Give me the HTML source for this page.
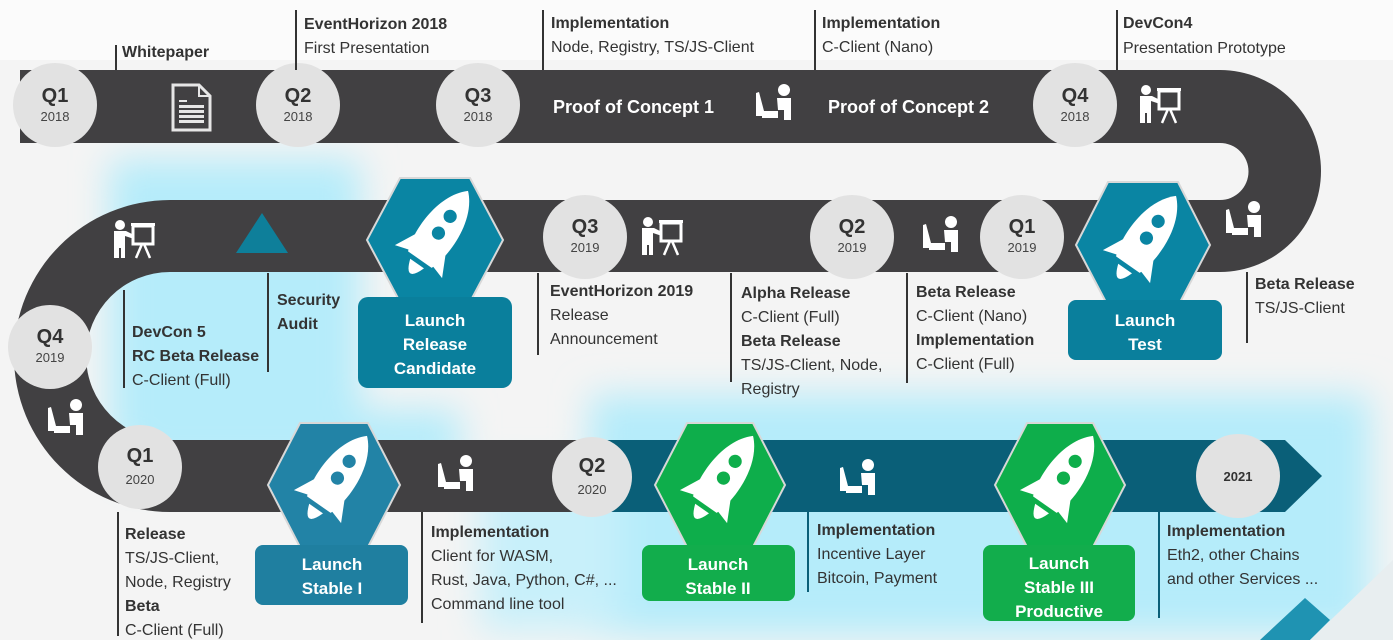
<!DOCTYPE html>
<html><head><meta charset="utf-8"><style>
html,body{margin:0;padding:0;background:#f4f4f4}
svg{display:block}
text{font-family:"Liberation Sans",sans-serif}
.b{font-weight:bold;font-size:16px;fill:#333}
.n{font-size:16px;fill:#333}
.q{font-weight:bold;font-size:20px;fill:#333}
.y{font-size:13px;fill:#444}
.w{font-weight:bold;fill:#fff;font-size:17px}
</style></head><body>
<svg width="1393" height="640" viewBox="0 0 1393 640" xmlns="http://www.w3.org/2000/svg">
<defs>
<filter id="bl"><feGaussianBlur stdDeviation="18"/></filter>
<g id="lap" fill="#fff">
<circle cx="6" cy="-15" r="6"/>
<path d="M-1,-7 h14 v22 h-7 v-10 l-6,0 z"/>
<path d="M-22,-12 l3,-1 l5,19 h14 v5 h-22 z"/>
<rect x="-16" y="9" width="16" height="4"/>
</g>
<g id="pres" fill="#fff">
<circle cx="-14" cy="-15" r="5"/>
<path d="M-20,-9 h12 l8,4 v4 l-9,-3 v22 h-4 v-10 h-2 v10 h-5 z"/>
<rect x="-3" y="-17" width="24" height="3"/>
<rect x="-1" y="-14" width="20" height="18" fill="none" stroke="#fff" stroke-width="3"/>
<path d="M8,4 l-6,14 M10,4 l6,14" stroke="#fff" stroke-width="2.5"/>
</g>
</defs>
<rect width="1393" height="640" fill="#f4f4f4"/>
<rect x="0" y="0" width="1393" height="60" fill="#fbfbfb"/>
<g filter="url(#bl)">
<rect x="110" y="160" width="250" height="290" fill="#b5ecfa"/>
<rect x="130" y="410" width="330" height="60" fill="#b5ecfa"/>
<rect x="590" y="395" width="780" height="240" fill="#b5ecfa"/>
<rect x="480" y="470" width="140" height="160" fill="#c8f0fa"/>
</g>
<path d="M1260,640 L1305,598 L1330,620 L1310,640 Z" fill="#1f93b2"/>
<path d="M1310,640 L1393,560 V640 Z" fill="#e8eef0"/>
<path d="M20,70 H1220 A101,101 0 0 1 1321,171 A101,101 0 0 1 1220,272 H170 A83,83 0 0 0 170,440 H603 V512 H170 A156,156 0 0 1 170,200 H1220 A28.5,28.5 0 0 0 1220,143 H20 Z" fill="#414042"/>
<path d="M603,440 H1285 L1322,476 L1285,512 H603 Z" fill="#0a5f78"/>
<g fill="#e2e2e2">
<circle cx="55" cy="105" r="42"/><circle cx="298" cy="105" r="42"/><circle cx="478" cy="105" r="42"/><circle cx="1075" cy="105" r="42"/>
<circle cx="585" cy="237" r="42"/><circle cx="852" cy="237" r="42"/><circle cx="1022" cy="237" r="42"/>
<circle cx="50" cy="347" r="42"/><circle cx="140" cy="467" r="42"/><circle cx="592" cy="477" r="40"/><circle cx="1238" cy="476" r="42"/>
</g>
<g text-anchor="middle">
<text x="55" y="102" class="q">Q1</text><text x="55" y="121" class="y">2018</text>
<text x="298" y="102" class="q">Q2</text><text x="298" y="121" class="y">2018</text>
<text x="478" y="102" class="q">Q3</text><text x="478" y="121" class="y">2018</text>
<text x="1075" y="102" class="q">Q4</text><text x="1075" y="121" class="y">2018</text>
<text x="585" y="233" class="q">Q3</text><text x="585" y="252" class="y">2019</text>
<text x="852" y="233" class="q">Q2</text><text x="852" y="252" class="y">2019</text>
<text x="1022" y="233" class="q">Q1</text><text x="1022" y="252" class="y">2019</text>
<text x="50" y="343" class="q">Q4</text><text x="50" y="362" class="y">2019</text>
<text x="140" y="462" class="q">Q1</text><text x="140" y="484" class="y">2020</text>
<text x="592" y="472" class="q">Q2</text><text x="592" y="494" class="y">2020</text>
<text x="1238" y="481" style="font-weight:bold;font-size:13px;fill:#333">2021</text>
</g>
<path d="M173,85 H199 L210,96 V130 H173 Z" fill="none" stroke="#e6e6e6" stroke-width="3"/>
<path d="M199,85 V96 H210" fill="none" stroke="#e6e6e6" stroke-width="2"/>
<g fill="#e6e6e6"><rect x="179" y="100" width="8" height="2"/><rect x="179" y="105" width="25" height="3"/><rect x="179" y="110" width="25" height="3"/><rect x="179" y="115" width="25" height="3"/><rect x="179" y="120" width="25" height="3"/></g>
<text x="553" y="113" class="w" style="font-size:18px">Proof of Concept  1</text>
<text x="828" y="113" class="w" style="font-size:18px">Proof of Concept  2</text>
<use href="#lap" x="778" y="105"/>
<use href="#pres" x="1160" y="105"/>
<use href="#pres" x="662" y="237"/>
<use href="#lap" x="945" y="237"/>
<use href="#lap" x="1248" y="222"/>
<use href="#pres" x="134" y="240"/>
<use href="#lap" x="70" y="420"/>
<use href="#lap" x="460" y="476"/>
<use href="#lap" x="862" y="480"/>
<path d="M262,213 L288,253 H236 Z" fill="#0e7f9a"/>
<g stroke="#d8d8d8" stroke-width="2">
<path d="M367,240 L400,178 H470 L503,240 L470,302 H400 Z" fill="#0a85a3"/>
<path d="M1076,245 L1108,182 H1178 L1210,245 L1178,306 H1108 Z" fill="#0a85a3"/>
<path d="M268,485 L300,423 H368 L400,485 L368,547 H300 Z" fill="#2283a6"/>
<path d="M655,485 L687,423 H753 L785,485 L753,547 H687 Z" fill="#0eae4b"/>
<path d="M995,485 L1027,423 H1093 L1125,485 L1093,547 H1027 Z" fill="#0eae4b"/>
</g>
<g transform="translate(435,238) rotate(35) scale(1.2)">
<path d="M0,-48 C20,-30 18,8 12,22 H-12 C-18,8 -20,-30 0,-48 Z" fill="#fff"/>
<path d="M-12,0 L-24,24 L-11,20 Z M12,0 L24,24 L11,20 Z M-7,26 Q0,46 7,26 Z" fill="#fff"/>
<circle cx="0" cy="-22" r="5.5" fill="#0a85a3"/><circle cx="0" cy="-5" r="5.5" fill="#0a85a3"/>
</g>
<g transform="translate(1143,243) rotate(35) scale(1.2)">
<path d="M0,-48 C20,-30 18,8 12,22 H-12 C-18,8 -20,-30 0,-48 Z" fill="#fff"/>
<path d="M-12,0 L-24,24 L-11,20 Z M12,0 L24,24 L11,20 Z M-7,26 Q0,46 7,26 Z" fill="#fff"/>
<circle cx="0" cy="-22" r="5.5" fill="#0a85a3"/><circle cx="0" cy="-5" r="5.5" fill="#0a85a3"/>
</g>
<g transform="translate(334,483) rotate(35) scale(1.2)">
<path d="M0,-48 C20,-30 18,8 12,22 H-12 C-18,8 -20,-30 0,-48 Z" fill="#fff"/>
<path d="M-12,0 L-24,24 L-11,20 Z M12,0 L24,24 L11,20 Z M-7,26 Q0,46 7,26 Z" fill="#fff"/>
<circle cx="0" cy="-22" r="5.5" fill="#2283a6"/><circle cx="0" cy="-5" r="5.5" fill="#2283a6"/>
</g>
<g transform="translate(720,483) rotate(35) scale(1.2)">
<path d="M0,-48 C20,-30 18,8 12,22 H-12 C-18,8 -20,-30 0,-48 Z" fill="#fff"/>
<path d="M-12,0 L-24,24 L-11,20 Z M12,0 L24,24 L11,20 Z M-7,26 Q0,46 7,26 Z" fill="#fff"/>
<circle cx="0" cy="-22" r="5.5" fill="#0eae4b"/><circle cx="0" cy="-5" r="5.5" fill="#0eae4b"/>
</g>
<g transform="translate(1060,483) rotate(35) scale(1.2)">
<path d="M0,-48 C20,-30 18,8 12,22 H-12 C-18,8 -20,-30 0,-48 Z" fill="#fff"/>
<path d="M-12,0 L-24,24 L-11,20 Z M12,0 L24,24 L11,20 Z M-7,26 Q0,46 7,26 Z" fill="#fff"/>
<circle cx="0" cy="-22" r="5.5" fill="#0eae4b"/><circle cx="0" cy="-5" r="5.5" fill="#0eae4b"/>
</g>
<rect x="358" y="297" width="154" height="91" rx="10" fill="#0a7f9c"/>
<rect x="1068" y="300" width="154" height="60" rx="8" fill="#0a7f9c"/>
<rect x="255" y="545" width="153" height="60" rx="8" fill="#1f7fa0"/>
<rect x="642" y="545" width="153" height="56" rx="8" fill="#12ad4c"/>
<rect x="983" y="545" width="152" height="76" rx="8" fill="#12ad4c"/>
<g text-anchor="middle" class="w">
<text x="435" y="326" class="w">Launch</text><text x="435" y="350" class="w">Release</text><text x="435" y="374" class="w">Candidate</text>
<text x="1145" y="326" class="w">Launch</text><text x="1145" y="350" class="w">Test</text>
<text x="332" y="570" class="w">Launch</text><text x="332" y="594" class="w">Stable I</text>
<text x="718" y="570" class="w">Launch</text><text x="718" y="594" class="w">Stable II</text>
<text x="1059" y="569" class="w">Launch</text><text x="1059" y="593" class="w">Stable III</text><text x="1059" y="617" class="w">Productive</text>
</g>
<g stroke="#333" stroke-width="2">
<path d="M116,45 V70 M296,10 V70 M543,10 V70 M815,10 V70 M1117,10 V70"/>
<path d="M124,290 V388 M268,273 V372 M538,273 V355 M731,273 V382 M907,273 V383 M1247,272 V343"/>
<path d="M118,512 V636 M422,512 V623"/>
</g>
<g stroke="#0a5f78" stroke-width="2"><path d="M808,512 V592 M1159,510 V618"/></g>
<text x="122" y="57" class="b">Whitepaper</text>
<text x="304" y="29" class="b">EventHorizon 2018</text><text x="304" y="53" class="n">First Presentation</text>
<text x="551" y="28" class="b">Implementation</text><text x="551" y="52" class="n">Node, Registry, TS/JS-Client</text>
<text x="822" y="28" class="b">Implementation</text><text x="822" y="52" class="n">C-Client (Nano)</text>
<text x="1123" y="28" class="b">DevCon4</text><text x="1123" y="53" class="n">Presentation Prototype</text>
<text x="277" y="305" class="b">Security</text><text x="277" y="329" class="b">Audit</text>
<text x="132" y="337" class="b">DevCon 5</text><text x="132" y="361" class="b">RC Beta Release</text><text x="132" y="385" class="n">C-Client (Full)</text>
<text x="550" y="296" class="b">EventHorizon 2019</text><text x="550" y="320" class="n">Release</text><text x="550" y="344" class="n">Announcement</text>
<text x="741" y="298" class="b">Alpha Release</text><text x="741" y="322" class="n">C-Client (Full)</text><text x="741" y="346" class="b">Beta Release</text><text x="741" y="370" class="n">TS/JS-Client, Node,</text><text x="741" y="394" class="n">Registry</text>
<text x="916" y="297" class="b">Beta Release</text><text x="916" y="321" class="n">C-Client (Nano)</text><text x="916" y="345" class="b">Implementation</text><text x="916" y="369" class="n">C-Client (Full)</text>
<text x="1255" y="289" class="b">Beta Release</text><text x="1255" y="313" class="n">TS/JS-Client</text>
<text x="125" y="539" class="b">Release</text><text x="125" y="563" class="n">TS/JS-Client,</text><text x="125" y="587" class="n">Node, Registry</text><text x="125" y="611" class="b">Beta</text><text x="125" y="635" class="n">C-Client (Full)</text>
<text x="431" y="537" class="b">Implementation</text><text x="431" y="561" class="n">Client for WASM,</text><text x="431" y="585" class="n">Rust, Java, Python, C#, ...</text><text x="431" y="609" class="n">Command line tool</text>
<text x="817" y="535" class="b">Implementation</text><text x="817" y="559" class="n">Incentive Layer</text><text x="817" y="583" class="n">Bitcoin, Payment</text>
<text x="1167" y="536" class="b">Implementation</text><text x="1167" y="560" class="n">Eth2, other Chains</text><text x="1167" y="584" class="n">and other Services ...</text>
</svg>
</body></html>
